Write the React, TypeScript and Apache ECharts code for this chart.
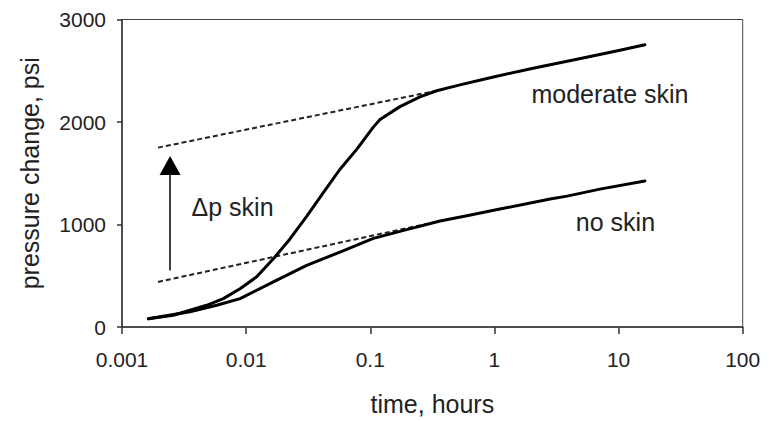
import React, { useEffect, useRef } from "react";
import * as echarts from "echarts";

// time (hours) and pressure change (psi)
const moderateT = [0.00163, 0.00259, 0.00481, 0.00655, 0.00893, 0.01217, 0.01656, 0.02255, 0.03074, 0.04185, 0.05702, 0.07775, 0.1058, 0.1198, 0.1734, 0.2512, 0.3427, 0.528, 0.871, 2.05, 5.17, 10.26, 16.3];
const moderateP = [80, 115, 212, 277, 374, 490, 665, 859, 1080, 1311, 1539, 1733, 1950, 2024, 2150, 2245, 2305, 2362, 2425, 2525, 2625, 2700, 2753];

const noSkinT = [0.00163, 0.00353, 0.00579, 0.00893, 0.01656, 0.03074, 0.05702, 0.1058, 0.1963, 0.365, 0.6, 1.107, 2.81, 3.85, 7.08, 16.3];
const noSkinP = [80, 148, 212, 277, 440, 602, 731, 865, 950, 1034, 1085, 1151, 1248, 1277, 1345, 1425];

const upperDashT = [0.00195, 0.343];
const upperDashP = [1750, 2305];
const lowerDashT = [0.00195, 0.365];
const lowerDashP = [440, 1034];

const arrowT = 0.00244;
const arrowP = [552, 1575];

const xTickLabels = ["0.001", "0.01", "0.1", "1", "10", "100"];
const yTickLabels = ["0", "1000", "2000", "3000"];

const annotations = [
  { text: "moderate skin", t: 8.53, p: 2277 },
  { text: "no skin", t: 9.44, p: 1024 },
  { text: "\u0394p skin", t: 0.00777, p: 1170 },
];

const FONT = "'Liberation Sans', Arial, sans-serif";

export default function App() {
  const ref = useRef<HTMLDivElement>(null);
  useEffect(() => {
    if (!ref.current) return;
    const chart = echarts.init(ref.current, undefined, { renderer: "svg" });
    const zip = (a: number[], b: number[]) => a.map((v, i) => [v, b[i]]);
    chart.setOption({
      animation: false,
      backgroundColor: "#ffffff",
      grid: {
        left: 122,
        top: 19.5,
        right: 33.3,
        bottom: 92.5,
        show: true,
        borderColor: "#444",
        borderWidth: 1,
      },
      xAxis: {
        type: "log",
        logBase: 10,
        min: 0.001,
        max: 100,
        name: "time, hours",
        nameLocation: "middle",
        nameGap: 64,
        nameTextStyle: { fontFamily: FONT, fontSize: 25, color: "#222" },
        axisLine: { show: true, lineStyle: { color: "#333", width: 1.5 } },
        axisTick: { show: true, length: 7, lineStyle: { color: "#333", width: 1.5 } },
        minorTick: { show: false },
        splitLine: { show: false },
        axisLabel: {
          fontFamily: FONT,
          fontSize: 21,
          color: "#222",
          margin: 22,
          formatter: (v: number) => xTickLabels[Math.round(Math.log10(v)) + 3] ?? "",
        },
      },
      yAxis: {
        type: "value",
        min: 0,
        max: 3000,
        interval: 1000,
        name: "pressure change, psi",
        nameLocation: "middle",
        nameGap: 80,
        nameTextStyle: { fontFamily: FONT, fontSize: 25, color: "#222" },
        axisLine: { show: true, lineStyle: { color: "#333", width: 1.5 } },
        axisTick: { show: true, length: 5, lineStyle: { color: "#333", width: 1.5 } },
        splitLine: { show: false },
        axisLabel: {
          fontFamily: FONT,
          fontSize: 21,
          color: "#222",
          margin: 16,
          formatter: (v: number) => yTickLabels[Math.round(v / 1000)] ?? "",
        },
      },
      series: [
        {
          type: "line",
          data: zip(upperDashT, upperDashP),
          symbol: "none",
          lineStyle: { color: "#222", width: 2, type: [5, 3] },
          z: 2,
        },
        {
          type: "line",
          data: zip(lowerDashT, lowerDashP),
          symbol: "none",
          lineStyle: { color: "#222", width: 2, type: [5, 3] },
          z: 2,
        },
        {
          type: "line",
          data: zip(moderateT, moderateP),
          symbol: "none",
          smooth: false,
          lineStyle: { color: "#000", width: 3, join: "round", cap: "round" },
          z: 3,
        },
        {
          type: "line",
          data: zip(noSkinT, noSkinP),
          symbol: "none",
          smooth: false,
          lineStyle: { color: "#000", width: 3, join: "round", cap: "round" },
          z: 3,
          markLine: {
            silent: true,
            symbol: ["none", "triangle"],
            symbolSize: [21, 19],
            label: { show: false },
            lineStyle: { color: "#000", width: 1.5, type: "solid" },
            data: [[{ coord: [arrowT, arrowP[0]] }, { coord: [arrowT, arrowP[1]] }]],
          },
          markPoint: {
            symbol: "circle",
            symbolSize: 0,
            silent: true,
            label: {
              show: true,
              position: "inside",
              fontFamily: FONT,
              fontSize: 25,
              color: "#222",
              formatter: (p: any) => p.name,
            },
            data: annotations.map((a) => ({ name: a.text, coord: [a.t, a.p] })),
          },
        },
      ],
    });
    return () => chart.dispose();
  }, []);
  return (
    <div
      ref={ref}
      style={{ position: "fixed", left: 0, top: 0, width: 776, height: 421, background: "#fff" }}
    />
  );
}
